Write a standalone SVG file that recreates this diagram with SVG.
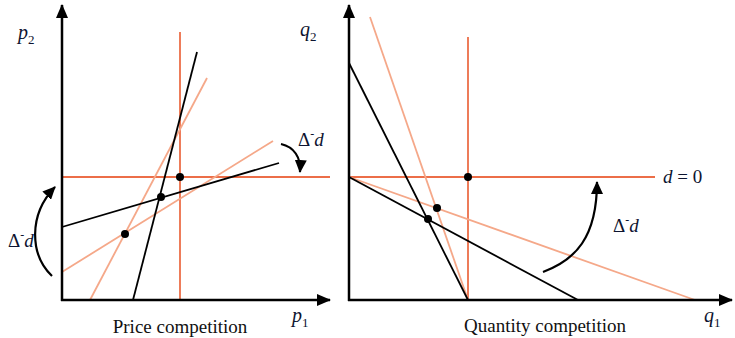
<svg xmlns="http://www.w3.org/2000/svg" width="735" height="338" viewBox="0 0 735 338">
<defs>
<marker id="ah" markerWidth="13" markerHeight="12" refX="12" refY="6" orient="auto" markerUnits="userSpaceOnUse">
<path d="M0,0 L13,6 L0,12 z" fill="#000"/>
</marker>
<marker id="axh" markerWidth="14" markerHeight="12" refX="13" refY="6" orient="auto" markerUnits="userSpaceOnUse">
<path d="M0,0 L14,6 L0,12 z" fill="#000"/>
</marker>
<style>
.axis{stroke:#000;stroke-width:2.5;fill:none}
.org{stroke:#EC6E48;stroke-width:1.8;fill:none}
.sal{stroke:#F5A889;stroke-width:1.8;fill:none}
.blk{stroke:#000;stroke-width:1.8;fill:none}
.arr{stroke:#000;stroke-width:2.2;fill:none}
.dot{fill:#000}
.lbl{font-family:"Liberation Serif",serif;font-style:italic;font-size:20px;fill:#0d1430}
.cap{font-family:"Liberation Serif",serif;font-size:19px;fill:#111}
.sub{font-size:13px;font-style:normal}
.dl{font-family:"Liberation Serif",serif;font-size:19px;fill:#0d1430}
</style>
</defs>
<g id="connectors">
<!-- left panel -->
<line class="org" x1="180" y1="32" x2="180" y2="300"/>
<line class="org" x1="62" y1="177" x2="330" y2="177"/>
<line class="sal" x1="90" y1="300" x2="207" y2="78"/>
<line class="sal" x1="62" y1="272" x2="273" y2="141"/>
<line class="blk" x1="133" y1="300" x2="197" y2="52"/>
<line class="blk" x1="62" y1="227" x2="279" y2="163"/>
<path class="arr" d="M52,276 C30,255 28,215 55,187" marker-end="url(#ah)"/>
<path class="arr" d="M281,144 C294,147 301,157 300,172" marker-end="url(#ah)"/>
<!-- right panel -->
<line class="org" x1="468" y1="37" x2="468" y2="300"/>
<line class="org" x1="349" y1="177" x2="655" y2="177"/>
<line class="sal" x1="370" y1="17" x2="468" y2="300"/>
<line class="sal" x1="349" y1="177" x2="695" y2="300"/>
<line class="blk" x1="349" y1="63" x2="468" y2="300"/>
<line class="blk" x1="349" y1="177" x2="578" y2="300"/>
<path class="arr" d="M543,272 C575,260 597,238 597,182" marker-end="url(#ah)"/>
<!-- axes -->
<line class="axis" x1="62" y1="301" x2="62" y2="5" marker-end="url(#axh)"/>
<line class="axis" x1="61" y1="300" x2="330" y2="300" marker-end="url(#axh)"/>
<line class="axis" x1="349" y1="301" x2="349" y2="5" marker-end="url(#axh)"/>
<line class="axis" x1="348" y1="300" x2="732" y2="300" marker-end="url(#axh)"/>
</g>
<g id="points">
<circle class="dot" cx="180" cy="177" r="4"/>
<circle class="dot" cx="161" cy="197" r="4"/>
<circle class="dot" cx="125" cy="234" r="4"/>
<circle class="dot" cx="468" cy="177" r="4"/>
<circle class="dot" cx="437" cy="208" r="4"/>
<circle class="dot" cx="428" cy="219" r="4"/>
</g>
<g id="labels">
<text class="lbl" x="18" y="39">p<tspan class="sub" dy="5">2</tspan></text>
<text class="lbl" x="292" y="322">p<tspan class="sub" dy="5">1</tspan></text>
<text class="lbl" x="300" y="36">q<tspan class="sub" dy="5">2</tspan></text>
<text class="lbl" x="704" y="322">q<tspan class="sub" dy="5">1</tspan></text>
<text class="cap" x="180" y="333" text-anchor="middle">Price competition</text>
<text class="cap" x="545" y="332" text-anchor="middle">Quantity competition</text>
<text class="dl" x="298" y="146">Δ<tspan font-size="12" dy="-8">-</tspan><tspan font-style="italic" dy="8">d</tspan></text>
<text class="dl" x="8" y="247">Δ<tspan font-size="12" dy="-8">-</tspan><tspan font-style="italic" dy="8">d</tspan></text>
<text class="dl" x="613" y="232">Δ<tspan font-size="12" dy="-8">-</tspan><tspan font-style="italic" dy="8">d</tspan></text>
<text class="dl" x="663" y="183"><tspan font-style="italic">d</tspan> = 0</text>
</g>
</svg>
